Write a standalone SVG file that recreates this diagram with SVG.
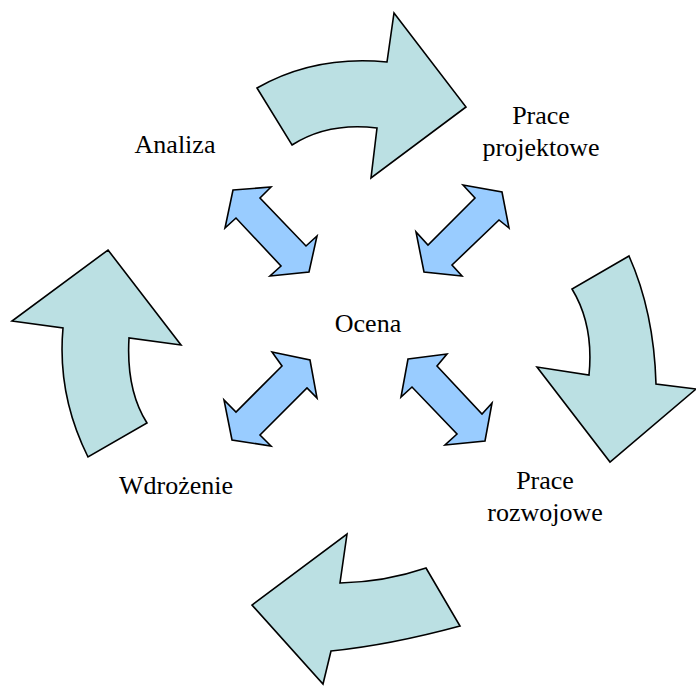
<svg xmlns="http://www.w3.org/2000/svg" width="696" height="695" viewBox="0 0 696 695">
<style>
.big{fill:#bbe0e3;stroke:#000;stroke-width:1.6;stroke-linejoin:miter}
.dbl{fill:#99ccff;stroke:#000;stroke-width:1.6;stroke-linejoin:miter}
.t{font-family:'Liberation Serif','Times New Roman',serif;font-size:26px;fill:#000;text-anchor:middle}
</style>
<rect width="696" height="695" fill="#fff"/>
<g id="connectors">
<path id="arrow-top" class="big" d="M257,88 Q315,55 387,62 L394,13 L466,107 L371,178 L377,128 Q328,122 292,145 Z"/>
<path id="arrow-right" class="big" d="M629,256 L572,289 Q594,325 589,375 L537,367 L610,462 L696,389 L656,384 Q654,312 629,256 Z"/>
<path id="arrow-bottom" class="big" d="M426,568 L460,626 Q390,645 331,651 L323,684 L252,605 L347,534 L340,583 Q385,582 426,568 Z"/>
<path id="arrow-left" class="big" d="M108,250 L181,345 L129,338 Q126,390 147,423 L88,457 Q57,395 63,328 L12,321 Z"/>
<path id="dbl-tl" class="dbl" d="M233,190 L271,187 L260,198 L306,246 L317,236 L309,272 L270,276 L281,266 L236,218 L225,228 Z"/>
<path id="dbl-tr" class="dbl" d="M463,185 L502,192 L509,228 L499,220 L452,265 L462,276 L424,272 L416,232 L428,245 L475,198 Z"/>
<path id="dbl-bl" class="dbl" d="M272,352 L310,360 L317,398 L307,388 L260,435 L271,446 L232,440 L224,400 L236,412 L282,366 Z"/>
<path id="dbl-br" class="dbl" d="M408,359 L447,354 L437,366 L482,414 L492,403 L485,441 L445,445 L457,434 L412,387 L401,397 Z"/>
</g>
<g id="node-analiza"><text class="t" x="175" y="153">Analiza</text></g>
<g id="node-prace-projektowe"><text class="t" x="541" y="124">Prace</text><text class="t" x="541" y="156">projektowe</text></g>
<g id="node-ocena"><text class="t" x="368" y="332">Ocena</text></g>
<g id="node-prace-rozwojowe"><text class="t" x="545" y="489">Prace</text><text class="t" x="545" y="521">rozwojowe</text></g>
<g id="node-wdrozenie"><text class="t" x="176" y="494">Wdrożenie</text></g>
</svg>
